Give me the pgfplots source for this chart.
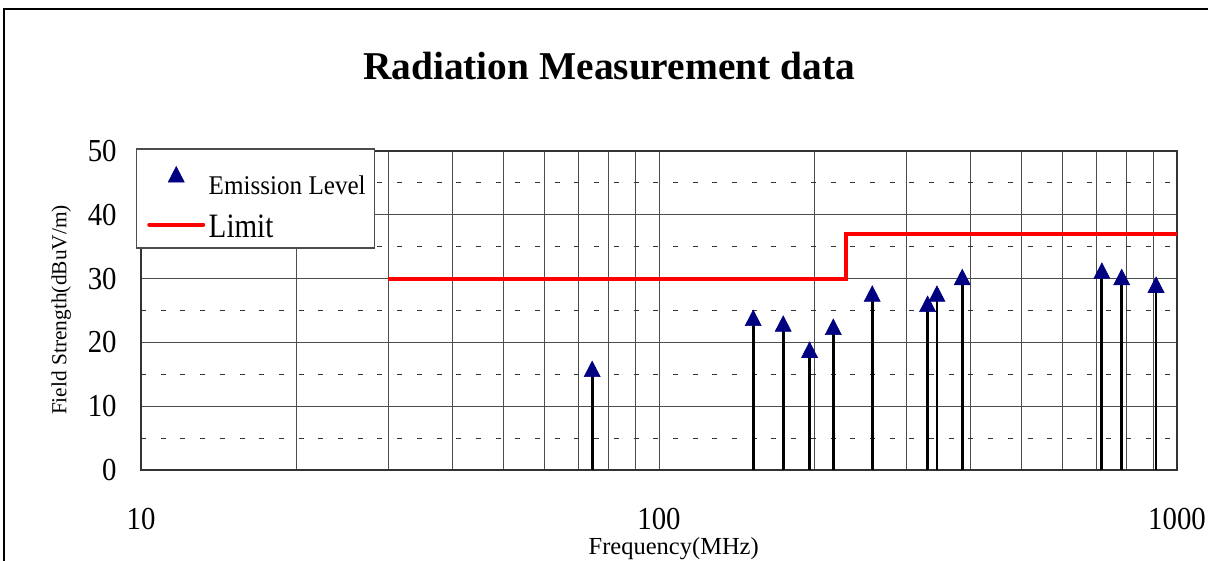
\documentclass[border=0pt]{standalone}
\usepackage{pgfplots}
\pgfplotsset{compat=1.18}
\usepackage{fontspec}
\setmainfont{Liberation Serif}
\newfontfamily\tickfont[FakeStretch=0.9]{Liberation Serif}
\newfontfamily\emisfont[FakeStretch=0.93]{Liberation Serif}
\newfontfamily\limfont[FakeStretch=0.85]{Liberation Serif}
\definecolor{navyblue}{RGB}{0,0,128}
\definecolor{limred}{RGB}{255,0,0}
\pgfplotsset{
  emisimg/.style={legend image code/.code={\draw[##1] plot coordinates {(14.25pt,0pt)}; \path (0pt,0pt) (28.5pt,0pt);}},
  limimg/.style={legend image code/.code={\draw[##1, line cap=round] (0.75pt,-2.5pt) -- (27.75pt,-2.5pt); \path (0pt,0pt) (28.5pt,0pt);}},
}
\begin{document}
\begin{tikzpicture}
\draw[line width=1pt] (2.15pt,-4.5pt) rectangle (640pt,-320pt);
\node[anchor=base, font=\bfseries\fontsize{19.7}{24}\selectfont] at (304.5pt,-40pt) {Radiation Measurement data};
\begin{axis}[
  at={(70.5pt,-235pt)}, anchor=south west,
  scale only axis, width=518pt, height=159.5pt,
  xmode=log, xmin=10, xmax=1000, ymin=0, ymax=50,
  xtick={10,100,1000}, xticklabels={10,100,1000},
  minor xtick={20,30,40,50,60,70,80,90,200,300,400,500,600,700,800,900},
  ytick={0,10,20,30,40,50}, yticklabels={0,10,20,30,40,50},
  extra y ticks={5,15,25,35,45}, extra y tick labels={},
  extra y tick style={grid=major, major grid style={black!80, line width=0.5pt, dash pattern=on 2.5pt off 7.35pt}},
  xmajorgrids, xminorgrids, ymajorgrids,
  major grid style={black!70, line width=0.5pt},
  minor grid style={black!70, line width=0.5pt},
  major tick length=0pt, minor tick length=0pt,
  axis line style={black!80, line width=0.6pt},
  ticklabel style={font=\tickfont\fontsize{16}{16}\selectfont},
  xticklabel style={anchor=center, inner sep=0pt, yshift=-24.5pt},
  yticklabel style={anchor=east, inner sep=0pt, xshift=-12pt},
  xlabel={Frequency(MHz)}, ylabel={Field Strength(dBuV/m)},
  every axis x label/.style={at={(axis description cs:0.5142,-0.2650)}, anchor=base, font=\fontsize{12.25}{14}\selectfont},
  every axis y label/.style={at={(axis description cs:-0.077,0.5016)}, rotate=90, anchor=center, font=\fontsize{10.7}{12}\selectfont},
  legend style={at={(axis description cs:-0.00483,1.0094)}, anchor=north west, draw=black!70, line width=0.75pt, fill=white, inner xsep=4.5pt, inner ysep=3.4pt, row sep=0pt, column sep=1pt, nodes={inner sep=0pt, text height=19.6pt, text depth=1.75pt}},
  legend cell align=left,
]
\addplot[ycomb, black, line width=1.4pt, mark=triangle*, mark size=4.62pt, mark options={fill=navyblue, draw=navyblue, line width=0.3pt, yshift=-1.15pt, yscale=1.12}, forget plot] coordinates {
(74.3,15.8) (152,23.8) (173.7,22.9) (195.3,18.8) (217,22.4) (258,27.6)
(330,26.0) (344,27.6) (385,30.2) (716,31.2) (782,30.2) (911,29.0)
};
\addlegendimage{only marks, mark=triangle*, mark size=4.62pt, mark options={fill=navyblue, draw=navyblue, line width=0.3pt, yscale=1.12}, emisimg}
\addlegendentry{\emisfont\fontsize{13.5}{14}\selectfont Emission Level}
\addplot[limred, line width=2pt, limimg] coordinates {(30,30) (230,30) (230,37) (1000,37)};
\addlegendentry{\limfont\fontsize{17.1}{18}\selectfont Limit}
\end{axis}
\pgfresetboundingbox
\useasboundingbox (0pt,0pt) rectangle (604pt,-280.5pt);
\end{tikzpicture}
\end{document}
